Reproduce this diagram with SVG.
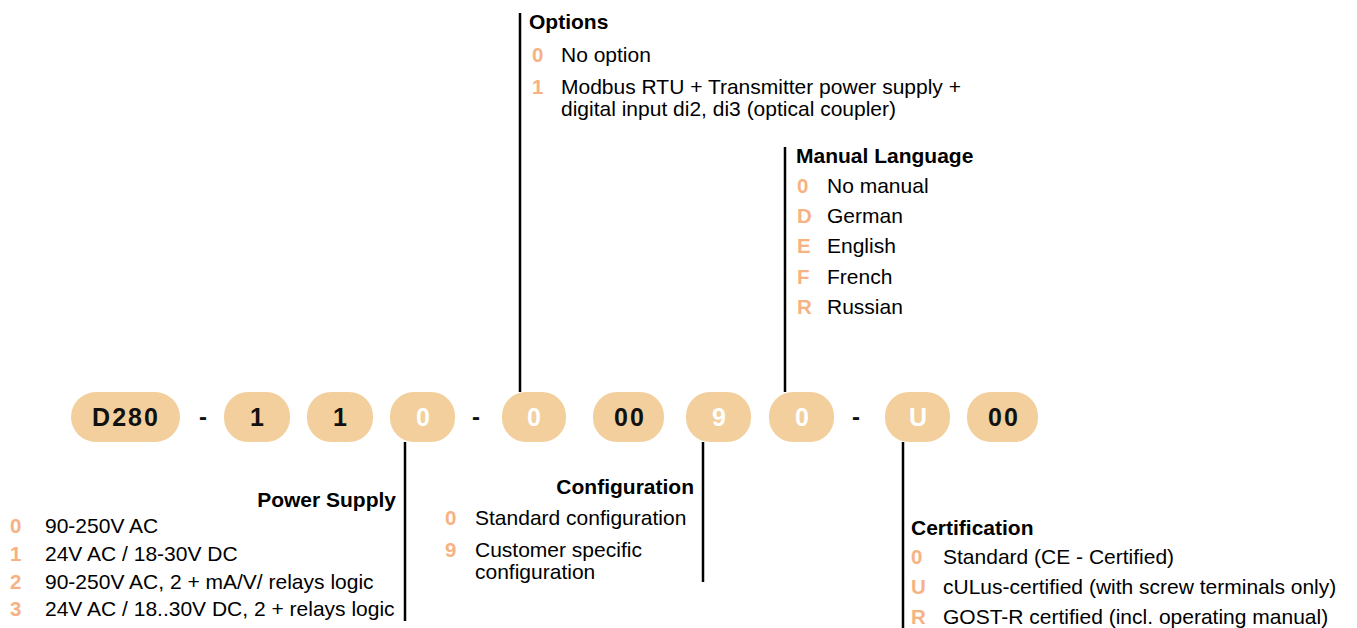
<svg xmlns="http://www.w3.org/2000/svg" width="1357" height="628" viewBox="0 0 1357 628">
<style>
.pill{fill:#F2CF9C}
.pt{font-family:"Liberation Sans",Arial,sans-serif;font-weight:bold;font-size:25px;text-anchor:middle;letter-spacing:2px}
.dk{fill:#111}
.wh{fill:#fff}
.dash{font-family:"Liberation Sans",Arial,sans-serif;font-weight:bold;font-size:24px;text-anchor:middle;fill:#111}
.hd{font-family:"Liberation Sans",Arial,sans-serif;font-weight:bold;font-size:21px;fill:#000}
.tx{font-family:"Liberation Sans",Arial,sans-serif;font-size:21px;fill:#000}
.ky{font-family:"Liberation Sans",Arial,sans-serif;font-weight:bold;font-size:20.5px;fill:#F7B283}
.ln{stroke:#000;stroke-width:2.5;fill:none}
</style>
<g id="connectors">
<line class="ln" x1="405" y1="442" x2="405" y2="621"/>
<line class="ln" x1="703" y1="442" x2="703" y2="582"/>
<line class="ln" x1="903" y1="442" x2="903" y2="628"/>
<line class="ln" x1="520" y1="13" x2="520" y2="392"/>
<line class="ln" x1="785" y1="147" x2="785" y2="392"/>
</g>
<g id="code">
<g id="p-d280"><rect class="pill" x="71" y="392" width="109" height="50" rx="25"/><text class="pt dk" x="126" y="426">D280</text></g>
<text class="dash" x="203" y="425">-</text>
<g id="p-1a"><rect class="pill" x="224" y="392" width="66" height="50" rx="24"/><text class="pt dk" x="258" y="426">1</text></g>
<g id="p-1b"><rect class="pill" x="307" y="392" width="66" height="50" rx="24"/><text class="pt dk" x="341" y="426">1</text></g>
<g id="p-0a"><rect class="pill" x="390" y="392" width="65" height="50" rx="24"/><text class="pt wh" x="424" y="426">0</text></g>
<text class="dash" x="476" y="425">-</text>
<g id="p-0b"><rect class="pill" x="502" y="392" width="64" height="50" rx="24"/><text class="pt wh" x="535" y="426">0</text></g>
<g id="p-00a"><rect class="pill" x="593" y="392" width="71" height="50" rx="24"/><text class="pt dk" x="630" y="426">00</text></g>
<g id="p-9"><rect class="pill" x="686" y="392" width="65" height="50" rx="24"/><text class="pt wh" x="720" y="426">9</text></g>
<g id="p-0c"><rect class="pill" x="769" y="392" width="65" height="50" rx="24"/><text class="pt wh" x="803" y="426">0</text></g>
<text class="dash" x="856" y="425">-</text>
<g id="p-U"><rect class="pill" x="885" y="392" width="65" height="50" rx="24"/><text class="pt wh" x="919" y="426">U</text></g>
<g id="p-00b"><rect class="pill" x="967" y="392" width="71" height="50" rx="24"/><text class="pt dk" x="1004" y="426">00</text></g>
</g>
<g id="power-supply">
<text class="hd" x="396" y="507" text-anchor="end">Power Supply</text>
<text class="ky" x="10" y="533">0</text><text class="tx" x="45" y="533">90-250V AC</text>
<text class="ky" x="10" y="561">1</text><text class="tx" x="45" y="561">24V AC / 18-30V DC</text>
<text class="ky" x="10" y="589">2</text><text class="tx" x="45" y="589">90-250V AC, 2 + mA/V/ relays logic</text>
<text class="ky" x="10" y="616">3</text><text class="tx" x="45" y="616">24V AC / 18..30V DC, 2 + relays logic</text>
</g>
<g id="configuration">
<text class="hd" x="694" y="494" text-anchor="end">Configuration</text>
<text class="ky" x="445" y="525">0</text><text class="tx" x="475" y="525">Standard configuration</text>
<text class="ky" x="445" y="557">9</text><text class="tx" x="475" y="557">Customer specific</text>
<text class="tx" x="475" y="579">configuration</text>
</g>
<g id="certification">
<text class="hd" x="911" y="535">Certification</text>
<text class="ky" x="911" y="564">0</text><text class="tx" x="943" y="564">Standard (CE - Certified)</text>
<text class="ky" x="911" y="594">U</text><text class="tx" x="943" y="594">cULus-certified (with screw terminals only)</text>
<text class="ky" x="911" y="624">R</text><text class="tx" x="943" y="624">GOST-R certified (incl. operating manual)</text>
</g>
<g id="options">
<text class="hd" x="529" y="29">Options</text>
<text class="ky" x="532" y="62">0</text><text class="tx" x="561" y="62">No option</text>
<text class="ky" x="532" y="94">1</text><text class="tx" x="561" y="94">Modbus RTU + Transmitter power supply +</text>
<text class="tx" x="561" y="116">digital input di2, di3 (optical coupler)</text>
</g>
<g id="manual-language">
<text class="hd" x="796" y="163">Manual Language</text>
<text class="ky" x="797" y="193">0</text><text class="tx" x="827" y="193">No manual</text>
<text class="ky" x="797" y="223">D</text><text class="tx" x="827" y="223">German</text>
<text class="ky" x="797" y="253">E</text><text class="tx" x="827" y="253">English</text>
<text class="ky" x="797" y="284">F</text><text class="tx" x="827" y="284">French</text>
<text class="ky" x="797" y="314">R</text><text class="tx" x="827" y="314">Russian</text>
</g>
</svg>
